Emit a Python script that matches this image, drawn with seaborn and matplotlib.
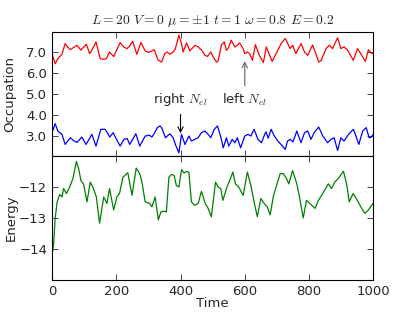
import matplotlib
matplotlib.use("Agg")
import matplotlib.pyplot as plt
import seaborn as sns
import pandas as pd

red_t = [0, 10, 18, 31, 41, 47, 57, 67, 78, 90, 107, 117, 124, 137, 150, 161, 169, 179, 192,
         212, 223, 233, 241, 251, 264, 277, 290, 301, 311, 318, 330, 341, 351, 359, 367, 377,
         384, 395, 403, 408, 419, 429, 445, 455, 466, 476, 484, 494, 502, 512, 517, 527, 536,
         543, 548, 558, 569, 577, 584, 595, 600, 608, 615, 624, 633, 645, 658, 667, 685, 697,
         713, 726, 733, 741, 749, 759, 775, 786, 796, 811, 820, 830, 838, 853, 863, 873, 889,
         899, 909, 920, 938, 951, 961, 975, 985, 993, 1000]
red_v = [6.92, 6.44, 6.68, 6.89, 7.40, 7.27, 7.11, 7.21, 7.32, 7.09, 7.37, 6.92, 7.08, 7.48,
         6.68, 6.65, 6.68, 7.00, 6.78, 7.45, 7.24, 7.16, 7.27, 7.51, 6.89, 7.45, 7.05, 6.98,
         7.05, 7.11, 6.62, 6.52, 6.92, 7.00, 6.89, 7.00, 7.16, 7.80, 7.40, 7.00, 7.43, 7.05,
         7.32, 7.24, 7.08, 6.84, 6.79, 7.00, 6.76, 6.52, 6.57, 7.32, 7.48, 7.08, 7.16, 7.56,
         7.24, 7.32, 7.43, 7.16, 6.92, 7.00, 6.92, 6.60, 7.35, 6.85, 6.50, 7.24, 6.55, 6.90,
         7.40, 7.64, 7.43, 7.16, 7.32, 6.92, 7.40, 7.00, 6.84, 7.33, 6.98, 6.52, 6.60, 7.16,
         7.32, 7.16, 7.68, 7.16, 7.24, 7.08, 6.60, 7.16, 6.92, 6.55, 7.11, 6.95, 6.92]

blue_t = [0, 10, 18, 31, 41, 57, 69, 78, 93, 106, 124, 137, 152, 165, 172, 180, 190, 212, 224,
          234, 242, 261, 273, 290, 303, 311, 318, 328, 336, 341, 353, 367, 377, 384, 395, 403,
          414, 426, 434, 444, 455, 465, 476, 486, 494, 505, 515, 526, 533, 543, 550, 561, 569,
          577, 587, 600, 610, 619, 629, 641, 652, 662, 666, 673, 682, 692, 703, 713, 726, 733,
          741, 750, 762, 775, 786, 796, 806, 816, 830, 843, 858, 868, 878, 889, 899, 909, 923,
          938, 946, 955, 967, 978, 987, 994, 1000]
blue_v = [3.16, 3.59, 3.24, 3.08, 2.60, 2.92, 2.76, 2.70, 2.95, 2.60, 3.08, 2.52, 3.32, 3.32,
          3.16, 2.95, 3.16, 2.52, 2.84, 2.88, 2.60, 3.11, 2.52, 3.00, 3.04, 2.95, 3.11, 3.40,
          3.48, 3.40, 2.92, 3.11, 2.92, 2.60, 2.20, 3.08, 2.60, 3.00, 2.76, 2.84, 2.92, 3.16,
          3.24, 3.08, 2.92, 3.32, 3.48, 2.92, 2.44, 2.92, 2.52, 2.84, 2.68, 2.92, 2.44, 3.00,
          3.08, 3.00, 3.32, 2.84, 2.68, 3.08, 3.20, 2.90, 3.32, 3.00, 2.76, 2.60, 2.36, 2.76,
          2.84, 2.72, 3.24, 2.68, 3.16, 3.24, 2.84, 3.16, 3.43, 3.00, 2.68, 2.84, 2.92, 2.31,
          2.92, 2.76, 3.08, 3.32, 3.00, 2.60, 3.24, 3.40, 2.92, 2.95, 3.08]

green_t = [0, 5, 10, 16, 24, 31, 36, 45, 55, 65, 76, 83, 90, 98, 109, 119, 129, 138, 148, 161,
           171, 179, 192, 202, 210, 221, 228, 236, 249, 262, 273, 280, 290, 304, 311, 321, 331,
           339, 346, 356, 364, 372, 380, 387, 395, 403, 411, 418, 426, 434, 444, 455, 465, 477,
           486, 496, 509, 517, 525, 532, 543, 553, 563, 571, 581, 595, 608, 619, 629, 639, 650,
           660, 670, 679, 689, 699, 710, 720, 730, 737, 749, 762, 770, 782, 792, 802, 819, 829,
           839, 849, 860, 870, 880, 891, 907, 917, 925, 937, 947, 964, 974, 984, 995, 1000]
green_v = [-14.18, -13.86, -13.0, -12.48, -12.24, -12.32, -12.05, -12.21, -12.0, -11.73, -11.18,
           -11.41, -11.79, -11.9, -12.48, -11.84, -12.05, -12.32, -13.17, -12.32, -12.53, -12.05,
           -12.74, -12.32, -12.21, -11.68, -11.62, -11.54, -12.27, -11.39, -11.57, -11.84, -12.48,
           -12.53, -12.64, -12.32, -13.06, -12.80, -12.78, -12.80, -11.68, -11.60, -11.62, -11.95,
           -12.0, -11.44, -11.55, -11.50, -11.52, -12.48, -12.59, -12.53, -12.14, -12.53, -12.69,
           -12.96, -11.84, -12.0, -12.05, -12.43, -12.05, -11.79, -11.52, -11.9, -12.0, -12.27,
           -11.52, -11.95, -12.48, -12.96, -12.37, -12.53, -12.64, -12.9, -12.3, -11.95, -11.57,
           -11.57, -11.73, -11.9, -11.47, -11.9, -12.3, -13.0, -12.43, -12.53, -12.69, -12.43,
           -12.27, -12.1, -11.9, -12.05, -11.84, -11.73, -11.49, -11.9, -12.48, -12.21, -12.37,
           -12.69, -12.85, -12.75, -12.59, -12.53]

occ_ticks = [3.0, 4.0, 5.0, 6.0, 7.0]
en_ticks = [-14, -13, -12]
time_ticks = [0, 200, 400, 600, 800, 1000]
title = r"$L=20$ $V=0$ $\mu=\pm1$ $t=1$ $\omega=0.8$ $E=0.2$"

sns.set_style("white")
plt.rcParams["font.family"] = ["DejaVu Sans"]
plt.rcParams["mathtext.fontset"] = "cm"
FS = 9.5

fig, (ax1, ax2) = plt.subplots(2, 1, sharex=True, figsize=(4.15, 3.12), dpi=100)
fig.subplots_adjust(left=0.1253, right=0.8995, top=0.8974, bottom=0.1026, hspace=0)

red_df = pd.DataFrame({"Time": red_t, "val": red_v})
blue_df = pd.DataFrame({"Time": blue_t, "val": blue_v})
green_df = pd.DataFrame({"Time": green_t, "val": green_v})

sns.lineplot(data=red_df, x="Time", y="val", ax=ax1, color="#ff0000", linewidth=0.9)
sns.lineplot(data=blue_df, x="Time", y="val", ax=ax1, color="#0000ff", linewidth=0.9)
sns.lineplot(data=green_df, x="Time", y="val", ax=ax2, color="#008000", linewidth=0.9)

ax1.set_xlim(0, 1000)
ax1.set_ylim(2.05, 7.95)
ax1.set_yticks(occ_ticks)
ax1.set_yticklabels([f"{v:.1f}" for v in occ_ticks])
ax1.set_ylabel("Occupation", fontsize=FS)
ax1.yaxis.set_label_coords(-0.11, 0.5)
ax1.set_xlabel("")
ax1.set_title(title, fontsize=9.8, pad=6)

ax2.set_ylim(-15, -11)
ax2.set_yticks(en_ticks)
ax2.set_yticklabels([f"\u2212{abs(v)}" for v in en_ticks])
ax2.set_xticks(time_ticks)
ax2.set_xticklabels([str(v) for v in time_ticks])
ax2.set_ylabel("Energy", fontsize=FS)
ax2.yaxis.set_label_coords(-0.106, 0.5)
ax2.set_xlabel("Time", fontsize=FS)
ax2.xaxis.set_label_coords(0.5, -0.135)

for ax in (ax1, ax2):
    for s in ax.spines.values():
        s.set_color("black")
        s.set_linewidth(0.8)
    ax.tick_params(direction="in", length=4, width=0.6, top=True, right=True,
                   bottom=True, left=True, labelsize=FS, pad=3.5)
ax1.tick_params(labelbottom=False)

ax1.annotate("right $N_{el}$", xy=(400, 3.0), xytext=(400, 4.72), ha="center", va="center",
             fontsize=FS, arrowprops=dict(arrowstyle="->", color="black", lw=0.8))
ax1.annotate("left $N_{el}$", xy=(600, 6.7), xytext=(600, 4.72), ha="center", va="center",
             fontsize=FS, arrowprops=dict(arrowstyle="->", color="0.45", lw=0.9))

fig.savefig("out.png", dpi=100)
